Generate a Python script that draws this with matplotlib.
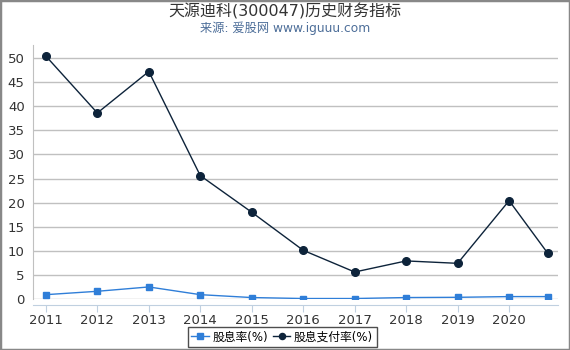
import matplotlib
matplotlib.use("Agg")
import matplotlib.pyplot as plt
from matplotlib.patches import Rectangle

plt.rcParams['font.family'] = ['DejaVu Sans', 'Noto Sans CJK SC']

years = [2011, 2012, 2013, 2014, 2015, 2016, 2017, 2018, 2019, 2020, 2020.75]
tick_years = [2011, 2012, 2013, 2014, 2015, 2016, 2017, 2018, 2019, 2020]
yield_pct = [0.9, 1.6, 2.5, 0.9, 0.3, 0.1, 0.1, 0.3, 0.35, 0.5, 0.5]
payout_pct = [50.4, 38.6, 47.2, 25.6, 18.0, 10.1, 5.6, 7.9, 7.4, 20.4, 9.5]

fig = plt.figure(figsize=(5.7, 3.5), dpi=100)
ax = fig.add_axes([33/570, 1-299/350, (558-33)/570, (299-45)/350])

ax.plot(years, yield_pct, color='#2f7ed8', lw=1, marker='s', ms=5,
        markerfacecolor='#2f7ed8', markeredgecolor='#2f7ed8', label='股息率(%)', zorder=3)
ax.plot(years, payout_pct, color='#0d233a', lw=1, marker='o', ms=5.5,
        markerfacecolor='#0d233a', markeredgecolor='#0d233a', label='股息支付率(%)', zorder=3)

ax.set_xlim(2010.75, 2020.95)
ax.set_ylim(0, 52.7)
ax.set_yticks(range(0, 55, 5))
ax.set_xticks(tick_years)
ax.set_xticklabels([str(y) for y in tick_years])
ax.grid(axis='y', color='#c0c0c0', lw=1)
ax.set_axisbelow(True)
for s in ['top', 'right']:
    ax.spines[s].set_visible(False)
ax.spines['left'].set_color('#c0c0c0')
ax.spines['bottom'].set_color('#c0d0e0')
ax.spines['bottom'].set_position(('outward', 4))
ax.tick_params(axis='y', length=0, labelsize=9.5, colors='#333333', pad=6)
ax.tick_params(axis='x', length=5, color='#c0d0e0', labelsize=9.5, colors='#333333', pad=2)

fig.text(0.5, 1-11/350, '天源迪科(300047)历史财务指标', ha='center', va='center',
         fontsize=11.5, color='#333333')
fig.text(0.5, 1-28/350, '来源: 爱股网 www.iguuu.com', ha='center', va='center',
         fontsize=8.8, color='#4d6e99')

leg = fig.legend(loc='center', bbox_to_anchor=(0.495, 1-337/350), ncol=2, fontsize=8.5,
                 frameon=True, fancybox=False, edgecolor='#222222', handlelength=1.5,
                 handletextpad=0.3, columnspacing=0.4, borderpad=0.3, markerscale=0.8)
leg.get_frame().set_linewidth(1)

fig.patches.append(Rectangle((0, 0), 1, 1, transform=fig.transFigure, fill=False,
                             edgecolor='#888888', lw=2.5))

fig.savefig('out.png', dpi=100)
